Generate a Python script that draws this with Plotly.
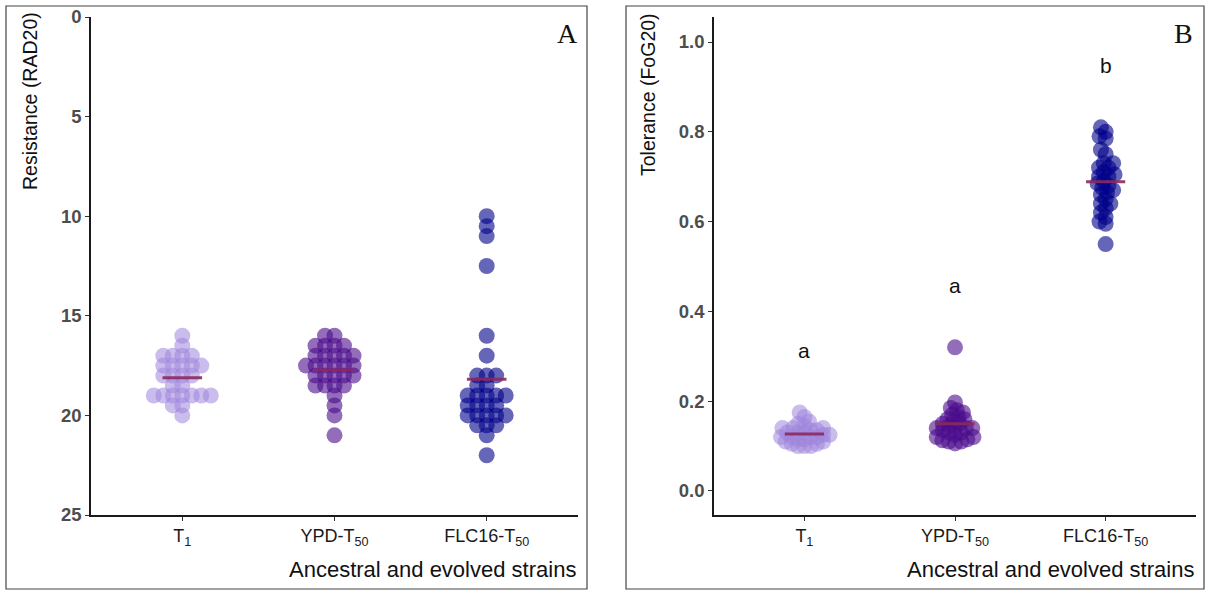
import numpy as np
import plotly.graph_objects as go

# ---------------- data ----------------
categories = ["T<sub>1</sub>", "YPD-T<sub>50</sub>", "FLC16-T<sub>50</sub>"]

t1_rad = [16, 16.5, 17, 17, 17, 17, 17.5, 17.5, 17.5, 17.5, 17.5, 18, 18, 18, 18,
          18.5, 18.5, 19, 19, 19, 19, 19, 19, 19, 19.5, 19.5, 20]
ypd_rad = [16, 16, 16.5, 16.5, 16.5, 16.5, 17, 17, 17, 17, 17, 17.5, 17.5, 17.5, 17.5,
           17.5, 17.5, 18, 18, 18, 18, 18, 18.5, 18.5, 18.5, 18.5, 19, 19.5, 20, 21]
flc_rad = [10, 10.5, 11, 12.5, 16, 17, 18, 18, 18, 18.5, 18.5, 19, 19, 19, 19, 19,
           19.5, 19.5, 19.5, 19.5, 20, 20, 20, 20, 20, 20.5, 20.5, 20.5, 21, 22]

t1_fog = [0.175, 0.165, 0.155, 0.15, 0.145, 0.14, 0.14, 0.135, 0.13, 0.13, 0.125, 0.125,
          0.12, 0.12, 0.12, 0.12, 0.115, 0.115, 0.11, 0.11, 0.105, 0.105, 0.1, 0.1, 0.1,
          0.13, 0.135, 0.14]
ypd_fog = [0.32, 0.197, 0.185, 0.18, 0.175, 0.17, 0.165, 0.16, 0.155, 0.15, 0.15, 0.145,
           0.14, 0.14, 0.14, 0.135, 0.13, 0.13, 0.125, 0.12, 0.12, 0.115, 0.113, 0.11,
           0.106, 0.11, 0.14, 0.16]
flc_fog = [0.81, 0.8, 0.79, 0.785, 0.76, 0.75, 0.73, 0.73, 0.72, 0.71, 0.705, 0.7, 0.69,
           0.685, 0.68, 0.675, 0.67, 0.665, 0.66, 0.65, 0.64, 0.64, 0.63, 0.62, 0.61, 0.6,
           0.595, 0.55, 0.7, 0.72]

sig_letters = ["a", "a", "b"]

rad_ticks = [0, 5, 10, 15, 20, 25]
fog_ticks = [0.0, 0.2, 0.4, 0.6, 0.8, 1.0]
fog_tick_text = ["0.0", "0.2", "0.4", "0.6", "0.8", "1.0"]

# ---------------- styling ----------------
W, H = 1207, 590
colors = ["#9f85dd", "#4b0b8c", "#00008b"]
alphas = [0.55, 0.6, 0.6]
mean_color = "#8b2a5e"
FONT = "Liberation Sans, Arial, sans-serif"
SERIF = "Liberation Serif, Times New Roman, serif"

# pixel geometry of plot areas
A_x0, A_x1 = 91, 578
B_x0, B_x1 = 714, 1196
Y_top, Y_bot = 17, 515
XR = [0.4, 3.6]
A_YR = [25, 0]
B_YR = [-0.0535, 1.0557]


def swarm(vals, pxx, pxy, dmin):
    vals = np.asarray(vals, dtype=float)
    order = np.argsort(vals, kind="stable")
    placed = []  # (xpix, ypix)
    out = np.zeros(len(vals))
    for i in order:
        y = vals[i] * pxy
        cands = [0.0]
        for (xj, yj) in placed:
            dy = abs(y - yj)
            if dy < dmin:
                dx = np.sqrt(dmin ** 2 - dy ** 2)
                cands += [xj + dx, xj - dx]
        cands.sort(key=lambda c: (abs(c), c))
        for c in cands:
            ok = True
            for (xj, yj) in placed:
                if (c - xj) ** 2 + (y - yj) ** 2 < dmin ** 2 - 1e-6:
                    ok = False
                    break
            if ok:
                placed.append((c, y))
                out[i] = c / pxx
                break
    return out


fig = go.Figure()

A_pxx = (A_x1 - A_x0) / (XR[1] - XR[0])
A_pxy = (Y_bot - Y_top) / abs(A_YR[0] - A_YR[1])
B_pxx = (B_x1 - B_x0) / (XR[1] - XR[0])
B_pxy = (Y_bot - Y_top) / (B_YR[1] - B_YR[0])

for k, (vals, vals_b) in enumerate(zip([t1_rad, ypd_rad, flc_rad], [t1_fog, ypd_fog, flc_fog])):
    offA = swarm(vals, A_pxx, A_pxy, 9.5)
    fig.add_trace(go.Scatter(
        x=(k + 1) + offA, y=vals, mode="markers", xaxis="x", yaxis="y",
        marker=dict(size=16, color=colors[k], opacity=alphas[k], line=dict(width=0)),
        showlegend=False, hoverinfo="y"))
    offB = swarm(vals_b, B_pxx, B_pxy, 6.5)
    fig.add_trace(go.Scatter(
        x=(k + 1) + offB, y=vals_b, mode="markers", xaxis="x2", yaxis="y2",
        marker=dict(size=16, color=colors[k], opacity=alphas[k], line=dict(width=0)),
        showlegend=False, hoverinfo="y"))

for k, vals in enumerate([t1_rad, ypd_rad, flc_rad]):
    m = float(np.mean(vals))
    fig.add_trace(go.Scatter(x=[k + 1 - 0.13, k + 1 + 0.13], y=[m, m], mode="lines",
                             xaxis="x", yaxis="y", line=dict(color=mean_color, width=3),
                             opacity=0.9, showlegend=False, hoverinfo="skip"))
for k, vals in enumerate([t1_fog, ypd_fog, flc_fog]):
    m = float(np.mean(vals))
    fig.add_trace(go.Scatter(x=[k + 1 - 0.13, k + 1 + 0.13], y=[m, m], mode="lines",
                             xaxis="x2", yaxis="y2", line=dict(color=mean_color, width=3),
                             opacity=0.9, showlegend=False, hoverinfo="skip"))

ydom = [1 - Y_bot / H, 1 - Y_top / H]
common_x = dict(range=XR, tickvals=[1, 2, 3], ticktext=categories, showline=True,
                linecolor="#1a1a1a", linewidth=1.5, ticks="outside", ticklen=4,
                tickcolor="#333", showgrid=False, zeroline=False, mirror=False,
                automargin=False,
                tickfont=dict(family=FONT, size=18, color="#1a1a1a"), fixedrange=True)
common_y = dict(showline=True, linecolor="#1a1a1a", linewidth=1.5, ticks="outside",
                ticklen=4, tickcolor="#333", showgrid=False, zeroline=False,
                automargin=False,
                tickfont=dict(family=FONT, size=18.5, color="#4d4d4d", weight="bold"),
                fixedrange=True)

fig.update_layout(
    width=W, height=H, margin=dict(l=0, r=0, t=0, b=0, autoexpand=False),
    paper_bgcolor="white", plot_bgcolor="white",
    xaxis=dict(domain=[A_x0 / W, A_x1 / W], anchor="y", **common_x),
    yaxis=dict(domain=ydom, anchor="x", range=A_YR, tickvals=rad_ticks, **common_y),
    xaxis2=dict(domain=[B_x0 / W, B_x1 / W], anchor="y2", **common_x),
    yaxis2=dict(domain=ydom, anchor="x2", range=B_YR, tickvals=fog_ticks,
                ticktext=fog_tick_text, **common_y),
    shapes=[
        dict(type="rect", xref="paper", yref="paper", x0=6 / W, x1=587 / W,
             y0=1 - 589 / H, y1=1 - 6 / H, line=dict(color="#444", width=1.2)),
        dict(type="rect", xref="paper", yref="paper", x0=626 / W, x1=1204 / W,
             y0=1 - 589 / H, y1=1 - 6 / H, line=dict(color="#444", width=1.2)),
    ],
)

ann = []
ann.append(dict(text="Resistance (RAD20)", x=30 / W, y=1 - 101 / H, xref="paper", yref="paper",
                textangle=-90, showarrow=False, xanchor="center", yanchor="middle",
                font=dict(family=FONT, size=19.5, color="#111")))
ann.append(dict(text="Tolerance (FoG20)", x=648 / W, y=1 - 95 / H, xref="paper", yref="paper",
                textangle=-90, showarrow=False, xanchor="center", yanchor="middle",
                font=dict(family=FONT, size=19.5, color="#111")))
for xr in [A_x1, B_x1]:
    ann.append(dict(text="Ancestral and evolved strains", x=xr / W, y=1 - 569 / H,
                    xref="paper", yref="paper", showarrow=False, xanchor="right",
                    yanchor="middle", font=dict(family=FONT, size=22, color="#111")))
ann.append(dict(text="A", x=567 / W, y=1 - 33 / H, xref="paper", yref="paper", showarrow=False,
                xanchor="center", yanchor="middle",
                font=dict(family=SERIF, size=28, color="#111")))
ann.append(dict(text="B", x=1183 / W, y=1 - 33 / H, xref="paper", yref="paper", showarrow=False,
                xanchor="center", yanchor="middle",
                font=dict(family=SERIF, size=28, color="#111")))
for k, (lab, vals) in enumerate(zip(sig_letters, [t1_fog, ypd_fog, flc_fog])):
    ann.append(dict(text=lab, x=k + 1, y=max(vals) + 0.137, xref="x2", yref="y2",
                    showarrow=False, xanchor="center", yanchor="middle",
                    font=dict(family=FONT, size=21, color="#111")))
fig.update_layout(annotations=ann)

fig.write_html("out.html")
